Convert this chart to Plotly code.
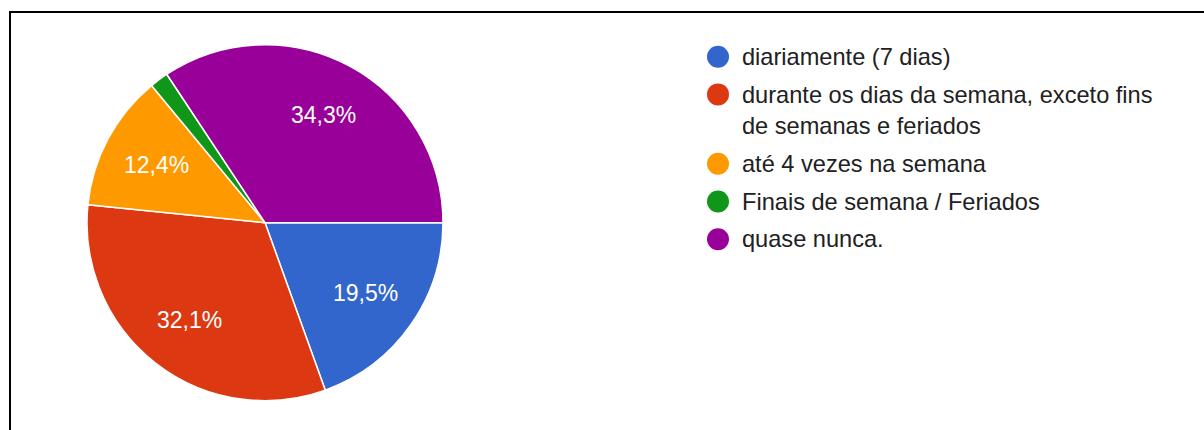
import math
import plotly.graph_objects as go

# Response shares (percent) per answer option
categories = [
    "diariamente (7 dias)",
    "durante os dias da semana, exceto fins<br>de semanas e feriados",
    "até 4 vezes na semana",
    "Finais de semana / Feriados",
    "quase nunca.",
]
values = [19.5, 32.1, 12.4, 1.7, 34.3]
colors = ["#3366CC", "#DC3912", "#FF9900", "#109618", "#990099"]

W, H = 1204, 430
FONT = "Liberation Sans, Arial, sans-serif"

# Pie geometry in pixels
cx, cy, R = 265.0, 222.7, 178.0
label_r = 0.69 * R
min_label_share = 5.0

fig = go.Figure()
fig.add_trace(go.Pie(
    labels=categories,
    values=values,
    marker=dict(colors=colors, line=dict(color="white", width=1.5)),
    sort=False,
    direction="clockwise",
    rotation=90,
    textinfo="none",
    hoverinfo="label+percent",
    showlegend=False,
    domain=dict(x=[(cx - R) / W, (cx + R) / W],
                y=[1 - (cy + R) / H, 1 - (cy - R) / H]),
))

annotations = []
shapes = []

# Percentage labels placed along each slice's bisector
total = sum(values)
cum = 0.0
for v in values:
    share = 100.0 * v / total
    mid = (cum + v / 2) / total * 2 * math.pi  # clockwise from 3 o'clock
    cum += v
    if share < min_label_share:
        continue
    px = cx + label_r * math.cos(mid)
    py = cy + label_r * math.sin(mid)
    annotations.append(dict(
        x=px / W, y=1 - py / H, xref="paper", yref="paper",
        text=f"{share:.1f}%".replace(".", ","), showarrow=False,
        font=dict(family=FONT, size=23, color="white"),
        xanchor="center", yanchor="middle",
    ))

# Legend: coloured dots with wrapped labels
leg_dot_x, leg_text_x = 718, 740
row_y = 56.7
item_gap, line_gap = 37.7, 31.7
for name, col in zip(categories, colors):
    nlines = name.count("<br>") + 1
    shapes.append(dict(
        type="circle", xref="paper", yref="paper",
        xsizemode="pixel", ysizemode="pixel",
        xanchor=leg_dot_x / W, yanchor=1 - row_y / H,
        x0=-11, x1=11, y0=-11, y1=11,
        fillcolor=col, line=dict(width=0),
    ))
    annotations.append(dict(
        x=leg_text_x / W, y=1 - (row_y + (nlines - 1) * line_gap / 2) / H,
        xref="paper", yref="paper", text=name, showarrow=False,
        align="left", xanchor="left", yanchor="middle",
        font=dict(family=FONT, size=23.6, color="#212121"),
    ))
    row_y += item_gap + (nlines - 1) * line_gap

# Frame around the chart area
shapes.append(dict(
    type="rect", xref="paper", yref="paper",
    x0=10 / W, x1=1.02, y0=-0.05, y1=1 - 12 / H,
    line=dict(color="black", width=2), fillcolor="rgba(0,0,0,0)",
))

fig.update_layout(
    width=W, height=H,
    margin=dict(l=0, r=0, t=0, b=0),
    paper_bgcolor="white",
    plot_bgcolor="white",
    annotations=annotations,
    shapes=shapes,
    font=dict(family=FONT),
)

fig.write_html("out.html")
